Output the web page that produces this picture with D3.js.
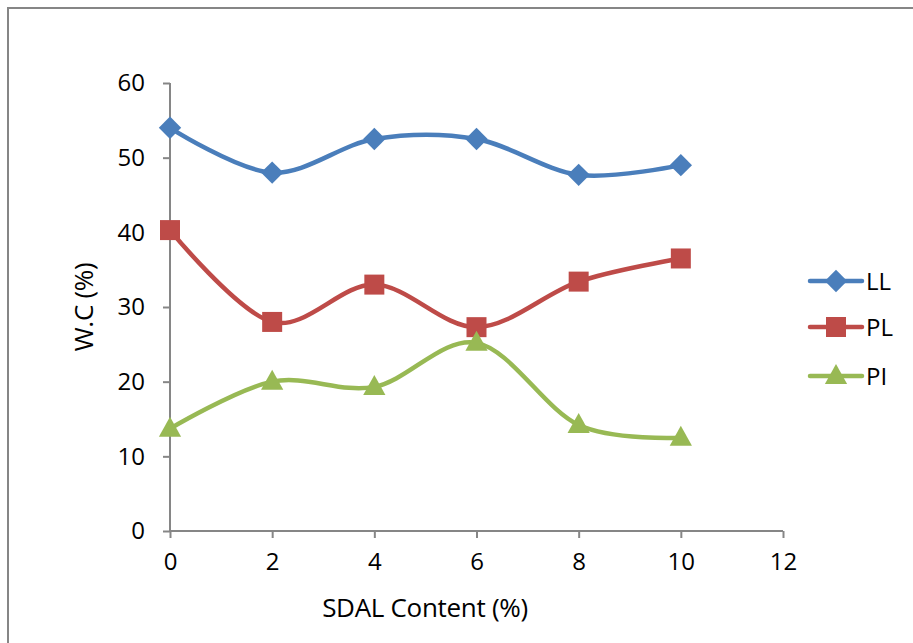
<!DOCTYPE html>
<html><head><meta charset="utf-8">
<script src="https://cdn.jsdelivr.net/npm/d3@7"></script>
<style>body{margin:0;background:#fff}svg{display:block}text{font-family:"Open Sans","Noto Sans",sans-serif}</style>
</head><body><svg id="c" width="913" height="643"></svg>
<script>
const xValues = [0, 2, 4, 6, 8, 10];
const llValues = [54, 48, 52.5, 52.5, 47.7, 49];
const plValues = [40.3, 28, 33, 27.3, 33.4, 36.5];
const piValues = [13.7, 20, 19.3, 25.2, 14.2, 12.5];
const xTicks = [0, 2, 4, 6, 8, 10, 12];
const yTicks = [0, 10, 20, 30, 40, 50, 60];
const seriesNames = ["LL", "PL", "PI"];
const colors = ["#4a7ebb", "#be4b48", "#98b954"];

const diamond = { draw(ctx, s) { const r = Math.sqrt(s / 2); ctx.moveTo(0, -r); ctx.lineTo(r, 0); ctx.lineTo(0, r); ctx.lineTo(-r, 0); ctx.closePath(); } };
const tri = { draw(ctx, s) { const w = Math.sqrt(s * 2 / 0.85) / 2, h = w * 1.8; ctx.moveTo(0, -h * 0.6); ctx.lineTo(w, h * 0.4); ctx.lineTo(-w, h * 0.4); ctx.closePath(); } };
const shapes = [diamond, d3.symbolSquare, tri];
const sizes = [250, 400, 210];

const svg = d3.select("#c");
svg.append("rect").attr("x", 8).attr("y", 8).attr("width", 920).attr("height", 650)
  .attr("fill", "none").attr("stroke", "#868686").attr("stroke-width", 2);

const x = d3.scaleLinear().domain([0, 12]).range([170, 783]);
const y = d3.scaleLinear().domain([0, 60]).range([531, 83]);

const axisColor = "#868686";
const xAxis = svg.append("g").attr("transform", "translate(0,531)")
  .call(d3.axisBottom(x).tickValues(xTicks).tickSize(7).tickPadding(15).tickFormat(d3.format("d")));
const yAxis = svg.append("g").attr("transform", "translate(170,0)")
  .call(d3.axisLeft(y).tickValues(yTicks).tickSize(7).tickPadding(18).tickFormat(d3.format("d")));
[xAxis, yAxis].forEach(g => {
  g.select(".domain").attr("stroke", axisColor).attr("stroke-width", 2);
  g.selectAll(".tick line").attr("stroke", axisColor).attr("stroke-width", 2);
  g.selectAll(".tick text").attr("fill", "#000").style("font-size", "24px");
});
xAxis.select(".domain").attr("d", "M170,0H783");
yAxis.select(".domain").attr("d", "M0,531V83");

svg.append("text").attr("x", 425).attr("y", 617).attr("text-anchor", "middle")
  .style("font-size", "26px").style("letter-spacing", "-0.3px").text("SDAL Content (%)");
svg.append("text").attr("transform", "translate(93,307) rotate(-90)").attr("text-anchor", "middle")
  .style("font-size", "26px").style("letter-spacing", "-0.3px").text("W.C (%)");

const all = [llValues, plValues, piValues];
const line = d3.line().x((d, i) => x(xValues[i])).y(d => y(d)).curve(d3.curveCardinal.tension(0));
all.forEach((vals, k) => {
  svg.append("path").datum(vals).attr("d", line).attr("fill", "none")
    .attr("stroke", colors[k]).attr("stroke-width", 4.5).attr("stroke-linecap", "round");
  svg.selectAll(null).data(vals).enter().append("path")
    .attr("d", d3.symbol().type(shapes[k]).size(sizes[k]))
    .attr("transform", (d, i) => `translate(${x(xValues[i])},${y(d)})`)
    .attr("fill", colors[k]);
});

// legend
const legY = [281, 327, 376];
seriesNames.forEach((n, k) => {
  const g = svg.append("g").attr("transform", `translate(0,${legY[k]})`);
  g.append("line").attr("x1", 810).attr("x2", 862).attr("y1", 0).attr("y2", 0)
    .attr("stroke", colors[k]).attr("stroke-width", 4.5).attr("stroke-linecap", "round");
  g.append("path").attr("d", d3.symbol().type(shapes[k]).size(sizes[k]))
    .attr("transform", `translate(836,0)`).attr("fill", colors[k]);
  g.append("text").attr("x", 866).attr("y", 9).style("font-size", "24px").text(n);
});
</script></body></html>
